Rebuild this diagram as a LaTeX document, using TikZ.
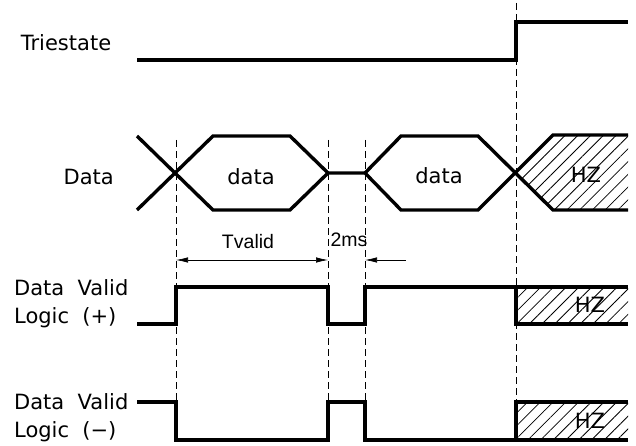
\documentclass[tikz,border=0pt]{standalone}
\usepackage{fontspec}
\setmainfont{DejaVu Sans}
\newfontfamily\dimfont{Liberation Sans}
\usetikzlibrary{patterns.meta,arrows.meta}

\begin{document}
\begin{tikzpicture}[x=1pt,y=-1pt,
        signal/.style={line width=3.4pt,line join=miter},
        guide/.style={line width=0.7pt,dash pattern=on 7pt off 4pt},
        hatch/.style={pattern={Lines[angle=45,distance=9pt,line width=0.8pt]}},
        lbl/.style={font=\fontsize{21}{28}\selectfont,inner sep=0pt,align=left},
        dimlbl/.style={font=\dimfont\fontsize{19.5}{20}\selectfont,inner sep=0pt},
        dimtip/.tip={Latex[length=12pt,width=5.5pt]}
    ]
    \useasboundingbox (0,0) rectangle (636,446);

    % signal names
    \begin{scope}[every node/.style={lbl}]
        \node (tri) at (66,43) {Triestate};
        \node[anchor=east] (dat) at (114,177) {Data};
        \node[anchor=west] (dvp) at (14,304) {Data\ \ Valid\\Logic\ \ (+)};
        \node[anchor=west] (dvm) at (14,418) {Data\ \ Valid\\Logic\ \ (\textminus)};
    \end{scope}

    % timing guides
    \draw[guide] (176,140) -- (176,402);
    \draw[guide] (328,140) -- (328,402);
    \draw[guide] (365,140) -- (365,402);
    \draw[guide] (516,3) -- (516,402);

    % hatched high impedance zones
    \fill[hatch] (516,173) -- (553,135) -- (628,135) -- (628,210) -- (553,210) -- cycle;
    \fill[hatch] (516,287) rectangle (628,324);
    \fill[hatch] (516,402) rectangle (628,440);

    % Triestate
    \draw[signal] (137,60) -- (516,60) -- (516,22) -- (628,22);

    % Data
    \draw[signal] (137,136) -- (213,210) -- (290,210) -- (328,173) -- (365,173)
        -- (401,210) -- (478,210) -- (553,135) -- (628,135);
    \draw[signal] (137,210) -- (213,136) -- (290,136) -- (328,173);
    \draw[signal] (365,173) -- (401,136) -- (478,136) -- (553,210) -- (628,210);
    \node[lbl] (d1) at (251,177) {data};
    \node[lbl] (d2) at (439,176) {data};
    \node[lbl] (hz1) at (586,175) {HZ};

    % Data Valid Logic (+)
    \draw[signal] (137,324) -- (176,324) -- (176,287) -- (328,287) -- (328,324)
        -- (365,324) -- (365,287) -- (628,287);
    \draw[signal] (516,287) -- (516,324) -- (628,324);
    \node[lbl] (hz2) at (590,305) {HZ};

    % Data Valid Logic (-)
    \draw[signal] (137,402) -- (176,402) -- (176,440) -- (328,440) -- (328,402)
        -- (365,402) -- (365,440) -- (628,440);
    \draw[signal] (516,440) -- (516,402) -- (628,402);
    \node[lbl] (hz3) at (590,421) {HZ};

    % dimensions
    \draw[line width=0.7pt,dimtip-dimtip] (176,260) -- (328,260);
    \draw[line width=0.7pt,dimtip-] (365,260) -- (406,260);
    \node[dimlbl] (tv) at (248,242) {Tvalid};
    \node[dimlbl] (ms) at (349,240) {2ms};
\end{tikzpicture}
\end{document}
